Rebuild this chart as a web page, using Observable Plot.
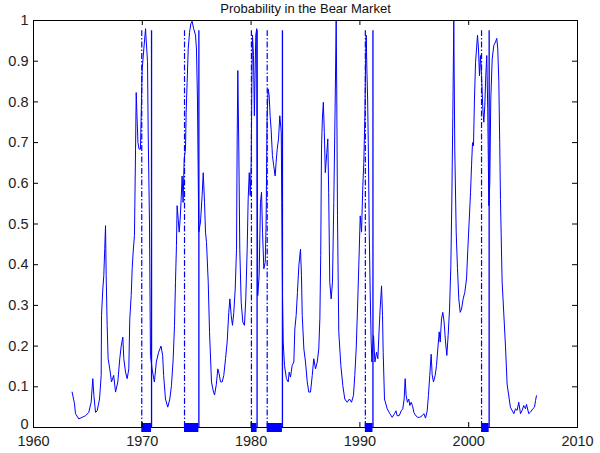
<!DOCTYPE html>
<html><head><meta charset="utf-8">
<script src="https://cdn.jsdelivr.net/npm/d3@7"></script>
<script src="https://cdn.jsdelivr.net/npm/@observablehq/plot@0.6"></script>
<style>body{margin:0;background:#fff}</style>
</head><body><div id="chart"></div>
<script>
const title = "Probability in the Bear Market";
const dates = [1963.55,1963.77,1963.86,1964.16,1964.47,1964.78,1965.08,1965.3,1965.45,1965.55,1965.7,1965.85,1966.07,1966.22,1966.25,1966.37,1966.46,1966.55,1966.62,1966.68,1966.77,1966.86,1967.01,1967.17,1967.37,1967.54,1967.75,1967.93,1968.06,1968.21,1968.3,1968.46,1968.61,1968.76,1968.85,1968.98,1969.07,1969.16,1969.28,1969.38,1969.44,1969.5,1969.6,1969.7,1969.83,1969.99,1970.14,1970.3,1970.33,1970.48,1970.54,1970.66,1970.75,1970.9,1971.11,1971.29,1971.5,1971.72,1971.87,1971.96,1972.13,1972.34,1972.53,1972.68,1972.84,1972.96,1973.05,1973.14,1973.2,1973.3,1973.39,1973.48,1973.57,1973.66,1973.75,1973.85,1973.97,1974.03,1974.12,1974.22,1974.34,1974.46,1974.58,1974.72,1974.89,1974.98,1975.07,1975.19,1975.35,1975.5,1975.6,1975.72,1975.81,1975.9,1976.06,1976.18,1976.36,1976.52,1976.64,1976.8,1976.94,1977.06,1977.19,1977.34,1977.49,1977.65,1977.8,1977.95,1978.05,1978.17,1978.29,1978.41,1978.54,1978.66,1978.72,1978.78,1978.87,1978.96,1979.09,1979.24,1979.39,1979.51,1979.64,1979.73,1979.83,1979.92,1980.01,1980.07,1980.13,1980.22,1980.3,1980.43,1980.52,1980.61,1980.74,1980.86,1980.96,1981.05,1981.17,1981.3,1981.38,1981.47,1981.57,1981.66,1981.75,1981.84,1981.96,1982.08,1982.21,1982.3,1982.4,1982.52,1982.64,1982.77,1982.82,1982.89,1982.95,1983.07,1983.25,1983.41,1983.5,1983.62,1983.77,1983.93,1984.02,1984.14,1984.26,1984.39,1984.54,1984.63,1984.7,1984.85,1985.0,1985.16,1985.3,1985.46,1985.62,1985.76,1985.92,1986.08,1986.22,1986.32,1986.4,1986.47,1986.55,1986.64,1986.73,1986.82,1986.96,1987.05,1987.13,1987.23,1987.36,1987.48,1987.6,1987.72,1987.82,1987.87,1987.94,1988.06,1988.25,1988.43,1988.61,1988.83,1989.04,1989.23,1989.41,1989.53,1989.66,1989.78,1989.9,1990.03,1990.15,1990.27,1990.36,1990.46,1990.52,1990.58,1990.64,1990.71,1990.77,1990.86,1990.94,1991.03,1991.1,1991.25,1991.38,1991.53,1991.65,1991.77,1991.86,1991.99,1992.08,1992.14,1992.26,1992.51,1992.75,1992.97,1993.18,1993.32,1993.42,1993.61,1993.8,1993.94,1994.07,1994.16,1994.25,1994.37,1994.49,1994.59,1994.71,1994.83,1994.96,1995.14,1995.32,1995.5,1995.73,1995.88,1996.03,1996.18,1996.3,1996.42,1996.55,1996.64,1996.76,1996.92,1997.04,1997.16,1997.29,1997.38,1997.5,1997.62,1997.74,1997.87,1997.99,1998.11,1998.24,1998.36,1998.45,1998.54,1998.63,1998.72,1998.85,1998.97,1999.09,1999.22,1999.34,1999.49,1999.64,1999.8,1999.92,2000.04,2000.17,2000.26,2000.35,2000.44,2000.53,2000.63,2000.72,2000.81,2000.9,2000.99,2001.08,2001.18,2001.3,2001.39,2001.48,2001.57,2001.66,2001.75,2001.85,2001.94,2002.03,2002.16,2002.31,2002.46,2002.58,2002.67,2002.77,2002.85,2002.92,2003.07,2003.38,2003.53,2003.83,2004.15,2004.3,2004.45,2004.6,2004.76,2004.91,2005.06,2005.22,2005.31,2005.52,2005.68,2005.89,2006.05,2006.14,2006.23];
const prob = [0.087,0.058,0.034,0.021,0.025,0.029,0.037,0.062,0.12,0.079,0.037,0.041,0.070,0.128,0.275,0.34,0.373,0.44,0.496,0.373,0.25,0.169,0.144,0.112,0.128,0.087,0.112,0.169,0.20,0.222,0.169,0.136,0.12,0.144,0.267,0.324,0.39,0.431,0.472,0.684,0.823,0.774,0.70,0.684,0.684,0.881,0.93,0.98,0.964,0.899,0.726,0.505,0.177,0.144,0.112,0.161,0.185,0.20,0.177,0.128,0.070,0.05,0.07,0.103,0.169,0.251,0.357,0.447,0.545,0.512,0.48,0.512,0.561,0.618,0.553,0.66,0.684,0.774,0.848,0.93,0.97,0.992,0.998,0.98,0.964,0.93,0.807,0.48,0.505,0.57,0.626,0.553,0.48,0.455,0.357,0.234,0.112,0.09,0.08,0.105,0.144,0.132,0.112,0.112,0.128,0.169,0.21,0.283,0.316,0.275,0.251,0.283,0.34,0.438,0.709,0.877,0.684,0.438,0.308,0.259,0.251,0.316,0.438,0.561,0.626,0.57,0.651,0.848,0.964,0.914,0.766,0.964,0.98,0.324,0.373,0.553,0.578,0.48,0.39,0.406,0.505,0.766,0.832,0.815,0.766,0.733,0.668,0.643,0.618,0.651,0.684,0.709,0.766,0.725,0.553,0.316,0.21,0.152,0.12,0.112,0.136,0.124,0.152,0.161,0.242,0.275,0.332,0.398,0.438,0.373,0.275,0.193,0.161,0.112,0.087,0.087,0.128,0.169,0.144,0.161,0.193,0.267,0.422,0.684,0.758,0.799,0.725,0.626,0.676,0.709,0.578,0.357,0.316,0.357,0.553,0.783,1.0,0.832,0.52,0.234,0.152,0.103,0.07,0.062,0.07,0.062,0.079,0.128,0.193,0.291,0.398,0.52,0.48,0.595,0.651,0.766,0.897,0.964,0.881,0.807,0.70,0.48,0.34,0.218,0.161,0.226,0.161,0.185,0.169,0.242,0.291,0.348,0.275,0.185,0.07,0.046,0.034,0.025,0.034,0.041,0.029,0.029,0.041,0.046,0.07,0.12,0.079,0.062,0.07,0.054,0.062,0.054,0.037,0.029,0.025,0.025,0.029,0.034,0.023,0.040,0.079,0.128,0.18,0.13,0.112,0.128,0.152,0.193,0.235,0.21,0.267,0.283,0.259,0.21,0.177,0.226,0.291,0.398,0.561,0.766,1.0,0.684,0.48,0.39,0.316,0.283,0.291,0.316,0.332,0.365,0.438,0.505,0.578,0.643,0.70,0.692,0.807,0.897,0.93,0.964,0.93,0.864,0.914,0.864,0.783,0.75,0.791,0.864,0.914,0.783,0.545,0.602,0.807,0.905,0.939,0.947,0.956,0.93,0.85,0.70,0.56,0.36,0.20,0.107,0.05,0.034,0.046,0.042,0.062,0.034,0.042,0.054,0.046,0.057,0.034,0.038,0.046,0.05,0.066,0.078];
const recessionStart = [1969.95, 1973.88, 1980.03, 1981.48, 1990.5, 2001.18];
const recessionEnd = [1970.85, 1975.2, 1980.55, 1982.88, 1991.2, 2001.88];
const recessionTop = 0.975;
const xTicks = [1960, 1970, 1980, 1990, 2000, 2010];
const yTicks = [0, 0.1, 0.2, 0.3, 0.4, 0.5, 0.6, 0.7, 0.8, 0.9, 1];

const series = dates.map((d, i) => ({date: d, p: prob[i]}));
const recessions = recessionStart.map((s, i) => ({start: s, end: recessionEnd[i], top: recessionTop}));

const W = 600, H = 453, mt = 20, mb = 26, ml = 33, mr = 23;
const fw = W - ml - mr, fh = H - mt - mb;
const blue = "#0000ff";
const yFmt = d => (d === 0 ? "0" : d === 1 ? "1" : d.toFixed(1));

const chart = Plot.plot({
  width: W, height: H,
  marginTop: mt, marginBottom: mb, marginLeft: ml, marginRight: mr,
  style: {fontFamily: "'Liberation Sans', Arial, sans-serif", fontSize: "14.5px", background: "#fff", color: "#222"},
  x: {domain: [1960, 2010]},
  y: {domain: [0, 1]},
  marks: [
    Plot.ruleX(recessions, {x: "start", y1: 0, y2: "top", stroke: blue, strokeWidth: 1.2, strokeDasharray: "6,2,1.5,2"}),
    Plot.ruleX(recessions, {x: "end", y1: 0, y2: "top", stroke: blue, strokeWidth: 1.3}),
    Plot.line(series, {x: "date", y: "p", stroke: blue, strokeWidth: 1}),
    Plot.frame({stroke: "#000"}),
    Plot.ruleY(recessions, {y: 0, x1: "start", x2: "end", stroke: blue, strokeWidth: 9}),
    Plot.tickX(xTicks, {x: d => d, insetTop: fh - 5, stroke: "#000"}),
    Plot.tickX(xTicks, {x: d => d, insetBottom: fh - 5, stroke: "#000"}),
    Plot.tickY(yTicks, {y: d => d, insetRight: fw - 5, stroke: "#000"}),
    Plot.tickY(yTicks, {y: d => d, insetLeft: fw - 5, stroke: "#000"}),
    Plot.axisX({ticks: xTicks, tickSize: 0, tickPadding: 8, tickFormat: d => String(d), label: null}),
    Plot.axisY({ticks: yTicks.filter(d => d > 0), tickSize: 0, tickPadding: 5, tickFormat: yFmt, label: null}),
    Plot.axisY({ticks: [0], tickSize: 0, tickPadding: 5, tickFormat: yFmt, label: null, dy: -3}),
    Plot.text([title], {text: d => d, frameAnchor: "top", lineAnchor: "bottom", dy: -7.5, fontSize: 13, fill: "#111"})
  ]
});
document.getElementById("chart").append(chart);
</script>
</body></html>
